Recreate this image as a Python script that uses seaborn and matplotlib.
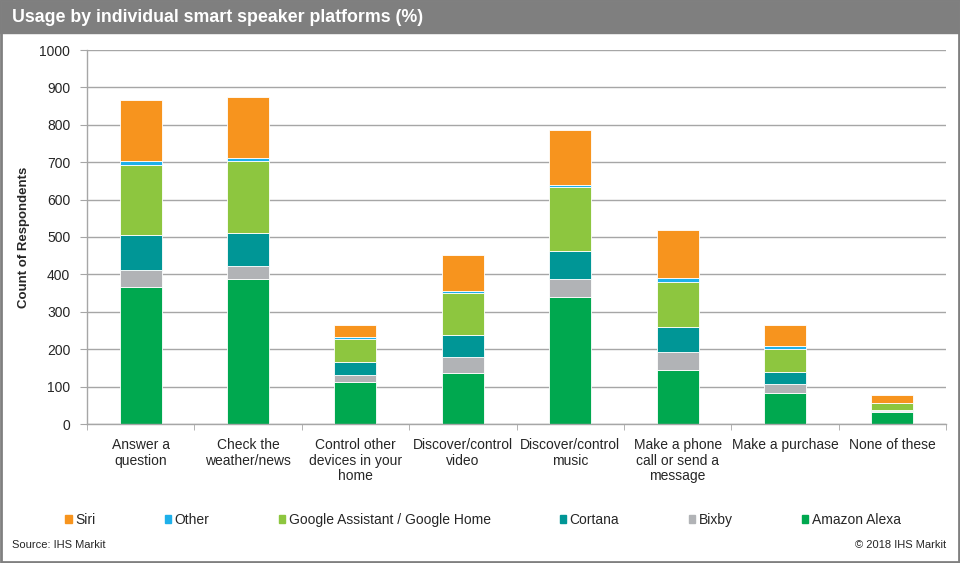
import matplotlib.pyplot as plt
import matplotlib.patches as mpatches
import numpy as np
import seaborn as sns

# данные (число респондентов)
tasks = [
    "Answer a\nquestion",
    "Check the\nweather/news",
    "Control other\ndevices in your\nhome",
    "Discover/control\nvideo",
    "Discover/control\nmusic",
    "Make a phone\ncall or send a\nmessage",
    "Make a purchase",
    "None of these",
]
alexa = [367, 387, 112, 137, 339, 144, 84, 31]
bixby = [46, 36, 18, 41, 48, 49, 23, 4]
cortana = [92, 88, 35, 60, 76, 66, 32, 3]
google = [187, 191, 63, 112, 171, 121, 61, 17]
other = [11, 10, 4, 6, 6, 11, 9, 2]
siri = [163, 162, 34, 95, 145, 127, 55, 20]

# снизу вверх
platforms = ["Amazon Alexa", "Bixby", "Cortana", "Google Assistant / Google Home", "Other", "Siri"]
series = [alexa, bixby, cortana, google, other, siri]
colors = ["#00A84F", "#B1B3B6", "#009696", "#8DC63F", "#1EB0EA", "#F7941E"]

sns.set_style("white")
plt.rcParams["font.family"] = ["Liberation Sans", "DejaVu Sans"]

fig = plt.figure(figsize=(9.6, 5.63), dpi=100)
ax = fig.add_axes([87 / 960, 1 - 424 / 563, (946 - 87) / 960, (424 - 50) / 563])

bottom = np.zeros(len(tasks))
handles = {}
for name, vals, c in zip(platforms, series, colors):
    sns.barplot(x=tasks, y=vals, bottom=bottom, color=c, width=0.39, saturation=1,
                edgecolor="white", linewidth=0.6, ax=ax)
    handles[name] = mpatches.Patch(color=c, label=name)
    bottom = bottom + np.array(vals)

ax.set_ylim(0, 1000)
ax.set_xlim(-0.5, len(tasks) - 0.5)
ax.set_yticks(np.arange(0, 1001, 100))
ax.yaxis.grid(True, color="#a6a6a6", linewidth=1)
ax.set_axisbelow(True)
for s in ["top", "right"]:
    ax.spines[s].set_visible(False)
for s in ["left", "bottom"]:
    ax.spines[s].set_color("#a6a6a6")
    ax.spines[s].set_linewidth(1)

ax.tick_params(axis="y", length=5, color="#a6a6a6", labelsize=10, pad=7, left=True)
ax.tick_params(axis="x", which="major", length=0, labelsize=10, pad=10)
ax.set_xticks(np.arange(-0.5, len(tasks)), minor=True)
ax.tick_params(axis="x", which="minor", length=4, color="#a6a6a6", bottom=True)
for lab in ax.get_xticklabels():
    lab.set_linespacing(1.15)
    lab.set_va("top")

ax.set_xlabel("")
ax.set_ylabel("Count of Respondents", fontsize=9.5, fontweight="bold")
ax.yaxis.set_label_coords(-0.066, 0.5)

# легенда: порядок как в оригинале
leg_order = ["Siri", "Other", "Google Assistant / Google Home", "Cortana", "Bixby", "Amazon Alexa"]
fig.legend([handles[n] for n in leg_order], leg_order, loc="center",
           bbox_to_anchor=(483 / 960, 1 - 520 / 563), ncol=6, frameon=False,
           fontsize=10, handlelength=0.45, handleheight=0.45, handletextpad=0.25,
           columnspacing=5.0)

# шапка и рамка
fig.patches.append(mpatches.Rectangle((0, 1 - 33 / 563), 1, 33 / 563, transform=fig.transFigure,
                                      color="#7f7f7f", zorder=0))
fig.patches.append(mpatches.Rectangle((0.001, 0.002), 0.998, 0.996, transform=fig.transFigure,
                                      fill=False, edgecolor="#808080", linewidth=2))
fig.text(12 / 960, 1 - 18 / 563, "Usage by individual smart speaker platforms (%)",
         color="white", fontsize=12.8, fontweight="bold", va="center", ha="left")
fig.text(12 / 960, 1 - 545 / 563, "Source: IHS Markit", fontsize=8, va="center", ha="left")
fig.text(946 / 960, 1 - 545 / 563, "\u00a9 2018 IHS Markit", fontsize=8, va="center", ha="right")

fig.savefig("out.png", dpi=100)
